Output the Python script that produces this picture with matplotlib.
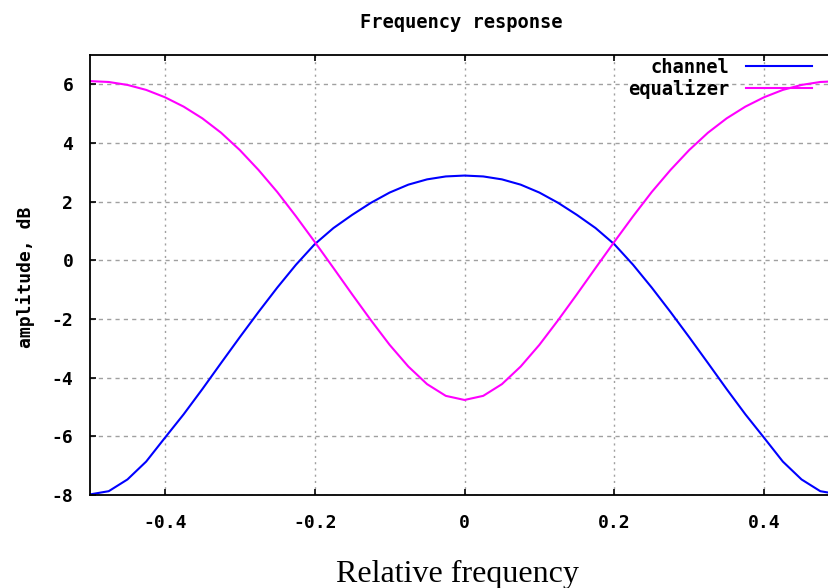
import matplotlib
matplotlib.use("Agg")
import matplotlib.pyplot as plt

# sample points (relative frequency)
freq = [-0.5, -0.475, -0.45, -0.425, -0.4, -0.375, -0.35, -0.325, -0.3, -0.275,
        -0.25, -0.225, -0.2, -0.175, -0.15, -0.125, -0.1, -0.075, -0.05, -0.025,
        0.0, 0.025, 0.05, 0.075, 0.1, 0.125, 0.15, 0.175, 0.2, 0.225,
        0.25, 0.275, 0.3, 0.325, 0.35, 0.375, 0.4, 0.425, 0.45, 0.475, 0.5]

channel = [-7.98, -7.87, -7.47, -6.86, -6.05, -5.25, -4.39, -3.50, -2.62, -1.76,
           -0.93, -0.15, 0.55, 1.10, 1.55, 1.96, 2.31, 2.58, 2.76, 2.86,
           2.89, 2.86, 2.76, 2.58, 2.31, 1.96, 1.55, 1.10, 0.55, -0.15,
           -0.93, -1.76, -2.62, -3.50, -4.39, -5.25, -6.05, -6.86, -7.47, -7.87, -7.98]

equalizer = [6.11, 6.08, 5.98, 5.81, 5.56, 5.24, 4.84, 4.35, 3.76, 3.08,
             2.33, 1.50, 0.63, -0.26, -1.16, -2.04, -2.88, -3.62, -4.22, -4.62,
             -4.76, -4.62, -4.22, -3.62, -2.88, -2.04, -1.16, -0.26, 0.63, 1.50,
             2.33, 3.08, 3.76, 4.35, 4.84, 5.24, 5.56, 5.81, 5.98, 6.08, 6.11]

xticks = [-0.4, -0.2, 0.0, 0.2, 0.4]
xticklabels = ['-0.4', '-0.2', '0', '0.2', '0.4']
yticks = [-8, -6, -4, -2, 0, 2, 4, 6]
yticklabels = ['-8', '-6', '-4', '-2', '0', '2', '4', '6']

W, H = 829, 588
mono = 'DejaVu Sans Mono'

fig = plt.figure(figsize=(W / 100, H / 100), dpi=100)
# plot area runs past the right edge of the picture (reference is cropped)
ax = fig.add_axes([90 / W, (H - 495) / H, 749 / W, 440 / H])

ax.plot(freq, channel, color='#0000ff', lw=1.5, label='channel')
ax.plot(freq, equalizer, color='#ff00ff', lw=1.5, label='equalizer')

ax.set_xlim(-0.5, 0.5)
ax.set_ylim(-8, 7)
ax.set_xticks(xticks)
ax.set_xticklabels(xticklabels)
ax.set_yticks(yticks)
ax.set_yticklabels(yticklabels)
ax.tick_params(direction='in', length=4, width=1.2, top=True, right=True,
               colors='black')
for lab in ax.get_xticklabels() + ax.get_yticklabels():
    lab.set_fontfamily(mono)
    lab.set_fontweight('bold')
    lab.set_fontsize(13)
ax.tick_params(axis='y', pad=12)
ax.tick_params(axis='x', pad=14)

for s in ax.spines.values():
    s.set_linewidth(1.3)
    s.set_color('black')

# gnuplot-like grid: dashed rows, dotted columns
ax.yaxis.grid(True, color='#a0a0a0', lw=1.0, linestyle=(0, (3, 3)))
ax.xaxis.grid(True, color='#a0a0a0', lw=1.0, linestyle=(0, (1.5, 3)))
ax.set_axisbelow(True)

leg = ax.legend(loc='upper right', bbox_to_anchor=(812 / W, 1 - 58 / H),
                bbox_transform=fig.transFigure, frameon=False, markerfirst=False,
                handlelength=3.5, handletextpad=0.9, labelspacing=0.1,
                borderpad=0, borderaxespad=0,
                prop={'family': mono, 'weight': 'bold', 'size': 13.5})

fig.text(461 / W, 1 - 22 / H, 'Frequency response', ha='center', va='center',
         family=mono, weight='bold', fontsize=13.5)
fig.text(26 / W, 1 - 277 / H, 'amplitude, dB', ha='center', va='center',
         rotation=90, family=mono, weight='bold', fontsize=13)
fig.text(457 / W, 1 - 582 / H, 'Relative frequency', ha='center', va='baseline',
         family='Liberation Serif', fontsize=23)

fig.savefig('out.png', dpi=100)
